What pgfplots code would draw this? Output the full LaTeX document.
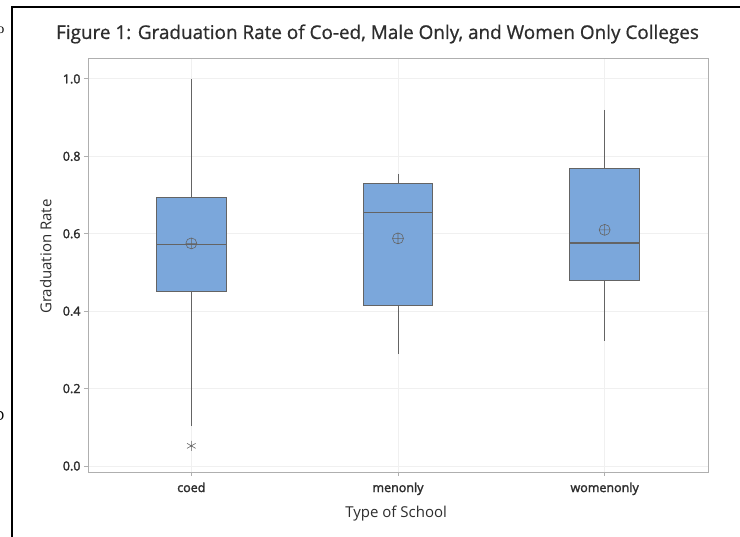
\documentclass[border=0pt]{standalone}
\usepackage{pgfplots}
\pgfplotsset{compat=1.18}
\usepgfplotslibrary{statistics}
\usepackage{fontspec}
\setmainfont{Open Sans}
\newfontfamily\semib{Open Sans}[FakeBold=2]
\newfontfamily\titlef{Open Sans}[FakeBold=0.8]
\newfontfamily\seriff{Liberation Serif}
\definecolor{boxfill}{RGB}{123,167,219}
\definecolor{boxline}{RGB}{100,100,100}
\definecolor{axgray}{RGB}{175,175,175}
\definecolor{gridc}{RGB}{240,240,240}
\definecolor{txt}{RGB}{45,45,45}
\begin{document}
\begin{tikzpicture}
\useasboundingbox (0pt,0pt) rectangle (740pt,537pt);
\fill[white] (0pt,0pt) rectangle (740pt,537pt);
\begin{axis}[
  at={(88pt,65pt)}, anchor=south west, scale only axis,
  width=620pt, height=414pt,
  xmin=0.5, xmax=3.5, ymin=-0.0155, ymax=1.054,
  boxplot/draw direction=y,
  boxplot/every median/.style={draw=boxline, line width=1.1pt},
  boxplot/every box/.style={draw=boxline, fill=boxfill, line width=1pt},
  boxplot/every whisker/.style={draw=boxline, line width=1pt},
  xtick={1,2,3}, xticklabels={coed,menonly,womenonly},
  ytick={0,0.2,0.4,0.6,0.8,1.0},
  yticklabel style={/pgf/number format/.cd,fixed,fixed zerofill,precision=1},
  /pgf/number format/assume math mode=true,
  tick label style={font=\semib\fontsize{12.5}{14}\selectfont, text=txt},
  xticklabel style={yshift=-3pt},
  axis line style={axgray, line width=0.9pt},
  tick style={axgray, line width=0.8pt},
  tick align=outside, major tick length=4pt,
  xtick pos=bottom, ytick pos=left,
  grid=major, major grid style={gridc, line width=0.8pt},
  xlabel={Type of School}, ylabel={Graduation Rate},
  label style={font=\fontsize{15}{18}\selectfont, text=txt},
  xlabel style={at={(axis description cs:0.497,-0.1)}, anchor=center},
  ylabel style={at={(axis description cs:-0.068,0.52)}, anchor=center, rotate=0},
  clip=false,
]
\addplot[boxplot prepared={draw position=1, lower whisker=0.103, lower quartile=0.452,
   median=0.573, upper quartile=0.693, upper whisker=1.0, box extend=0.338, whisker extend=0},
   draw=boxline, fill=boxfill, line width=1pt] coordinates {};
\addplot[boxplot prepared={draw position=2, lower whisker=0.289, lower quartile=0.414,
   median=0.656, upper quartile=0.731, upper whisker=0.755, box extend=0.338, whisker extend=0},
   draw=boxline, fill=boxfill, line width=1pt] coordinates {};
\addplot[boxplot prepared={draw position=3, lower whisker=0.324, lower quartile=0.479,
   median=0.576, upper quartile=0.769, upper whisker=0.92, box extend=0.338, whisker extend=0},
   draw=boxline, fill=boxfill, line width=1pt] coordinates {};
\addplot[only marks, mark=oplus, mark size=5.5pt, boxline, line width=0.6pt]
   coordinates {(1,0.575) (2,0.588) (3,0.610)};
\addplot[only marks, mark=asterisk, mark size=5pt, boxline, line width=0.6pt]
   coordinates {(1,0.052)};
\end{axis}
\node[text=txt, font=\titlef\fontsize{18.9}{22}\selectfont] at (377.5pt,503pt) {Figure 1: Graduation Rate of Co-ed, Male Only, and Women Only Colleges};
\draw[line width=2.5pt, black, line join=miter] (12pt,0pt) -- (12pt,530pt) -- (745pt,530pt);
\node[anchor=east, font=\seriff\fontsize{14}{14}\selectfont, inner sep=0pt] at (4.5pt,507pt) {o};
\node[anchor=east, font=\seriff\fontsize{14}{14}\selectfont, inner sep=0pt] at (4.5pt,121pt) {D};
\end{tikzpicture}
\end{document}
